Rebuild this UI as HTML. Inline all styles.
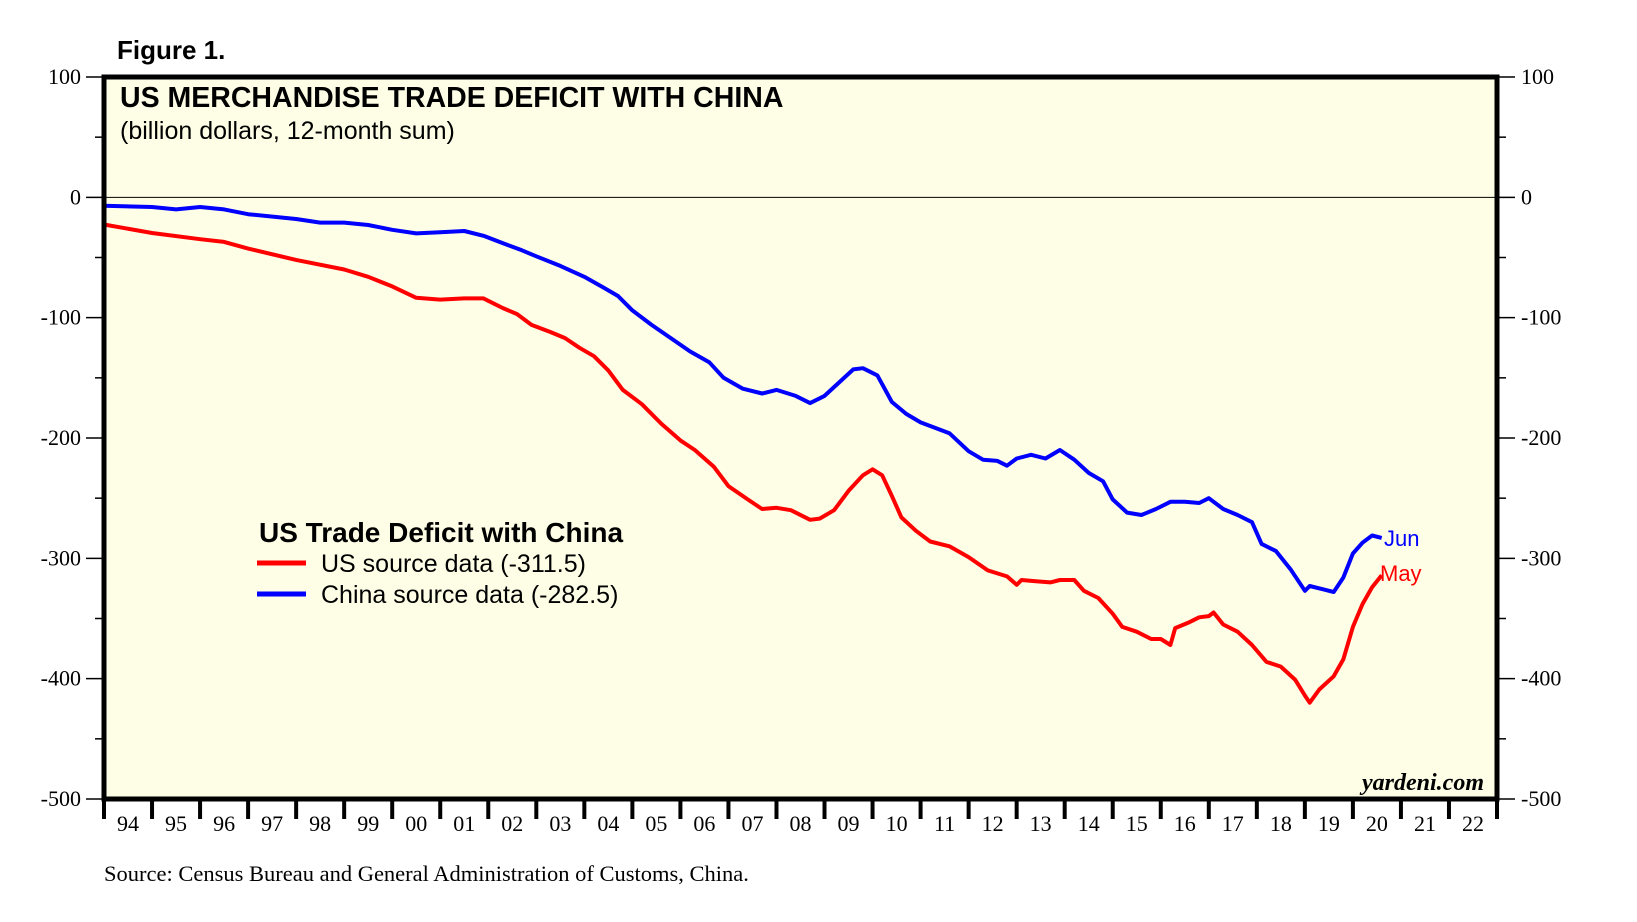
<!DOCTYPE html>
<html><head><meta charset="utf-8">
<style>
html,body{margin:0;padding:0;background:#fff;}
svg{display:block;}
</style></head>
<body>
<svg id="chart" width="1637" height="922" viewBox="0 0 1637 922" xmlns="http://www.w3.org/2000/svg">
<rect x="104" y="77" width="1393" height="722" fill="#fefee6"/>
<g id="axes"></g>
<g id="series"></g>
<rect x="104" y="77" width="1393" height="722" fill="none" stroke="#000" stroke-width="5"/>
<text x="117" y="59" font-family="Liberation Sans, sans-serif" font-weight="bold" font-size="26">Figure 1.</text>
<text x="120" y="107" font-family="Liberation Sans, sans-serif" font-weight="bold" font-size="28.5">US MERCHANDISE TRADE DEFICIT WITH CHINA</text>
<text x="120" y="139" font-family="Liberation Sans, sans-serif" font-size="25">(billion dollars, 12-month sum)</text>
<g>
<text x="259" y="542" font-family="Liberation Sans, sans-serif" font-weight="bold" font-size="28">US Trade Deficit with China</text>
<line x1="257" y1="563" x2="306" y2="563" stroke="#f00" stroke-width="5"/>
<text x="321" y="572" font-family="Liberation Sans, sans-serif" font-size="25">US source data (-311.5)</text>
<line x1="257" y1="594" x2="306" y2="594" stroke="#00f" stroke-width="5"/>
<text x="321" y="603" font-family="Liberation Sans, sans-serif" font-size="25">China source data (-282.5)</text>
</g>
<text x="1384" y="546" fill="#00f" font-family="Liberation Sans, sans-serif" font-size="22">Jun</text>
<text x="1380" y="581" fill="#f00" font-family="Liberation Sans, sans-serif" font-size="22">May</text>
<text x="1484" y="790" text-anchor="end" font-family="Liberation Serif, serif" font-weight="bold" font-style="italic" font-size="24">yardeni.com</text>
<text x="104" y="881" font-family="Liberation Serif, serif" font-size="22.5">Source: Census Bureau and General Administration of Customs, China.</text>
</svg>
<script>
const yTicks=[100,0,-100,-200,-300,-400,-500];
const yearLabels=["94","95","96","97","98","99","00","01","02","03","04","05","06","07","08","09","10","11","12","13","14","15","16","17","18","19","20","21","22"];
const usT=[1994,1995,1996,1996.5,1997,1998,1999,1999.5,2000,2000.5,2001,2001.5,2001.9,2002.3,2002.6,2002.9,2003.3,2003.6,2003.9,2004.2,2004.5,2004.8,2005.2,2005.6,2006,2006.3,2006.7,2007,2007.4,2007.7,2008,2008.3,2008.7,2008.9,2009.2,2009.5,2009.8,2010,2010.2,2010.4,2010.6,2010.9,2011.2,2011.6,2012,2012.4,2012.8,2013,2013.1,2013.4,2013.7,2013.9,2014.2,2014.4,2014.7,2015,2015.2,2015.5,2015.8,2016,2016.2,2016.3,2016.6,2016.8,2017,2017.1,2017.3,2017.6,2017.9,2018.2,2018.5,2018.8,2019,2019.1,2019.3,2019.6,2019.8,2020,2020.2,2020.4,2020.6];
const usV=[-22.6,-29.6,-34.8,-37,-42.6,-52,-60,-66,-74,-83.5,-85,-84,-84,-92,-97,-106,-112,-117,-125,-132,-144,-160,-172,-188,-202,-210,-224,-240,-251,-259,-258,-260,-268,-267,-260,-244,-231,-226,-231,-248,-266,-277,-286,-290,-299,-310,-315,-322,-318,-319,-320,-318,-318,-327,-333,-346,-357,-361,-367,-367,-372,-358,-353,-349,-348,-345,-355,-361,-372,-386,-390,-401,-414,-420,-409,-398,-384,-357,-338,-324,-314];
const cnT=[1994,1995,1995.5,1996,1996.5,1997,1998,1998.5,1999,1999.5,2000,2000.5,2001,2001.5,2001.9,2002.3,2002.7,2003,2003.5,2004,2004.4,2004.7,2005,2005.4,2005.8,2006.2,2006.6,2006.9,2007.3,2007.7,2008,2008.4,2008.7,2009,2009.3,2009.6,2009.8,2010.1,2010.4,2010.7,2011,2011.2,2011.6,2012,2012.3,2012.6,2012.8,2013,2013.3,2013.6,2013.9,2014.2,2014.5,2014.8,2015,2015.3,2015.6,2015.9,2016.2,2016.5,2016.8,2017,2017.3,2017.6,2017.9,2018.1,2018.4,2018.7,2019,2019.1,2019.4,2019.6,2019.8,2020,2020.2,2020.4,2020.6];
const cnV=[-7,-8,-10,-8,-10,-14,-18,-21,-21,-23,-27,-30,-29,-28,-32,-38,-44,-49,-57,-66,-75,-82,-94,-106,-117,-128,-137,-150,-159,-163,-160,-165,-171,-165,-154,-143,-142,-148,-170,-180,-187,-190,-196,-211,-218,-219,-223,-217,-214,-217,-210,-218,-229,-236,-251,-262,-264,-259,-253,-253,-254,-250,-259,-264,-270,-288,-294,-309,-327,-323,-326,-328,-316,-296,-287,-281,-283];

const NS="http://www.w3.org/2000/svg";
const L=104,R=1497,T=77,B=799,x0=1994,x1=2023,vmax=100,vmin=-500;
function xs(t){return L+(t-x0)/(x1-x0)*(R-L);}
function ys(v){return B-(v-vmin)/(vmax-vmin)*(B-T);}
function mk(tag,at,parent){const e=document.createElementNS(NS,tag);for(const k in at)e.setAttribute(k,at[k]);parent.appendChild(e);return e;}
const ax=document.getElementById('axes');
for(let v=vmin;v<=vmax;v+=50){
  const major=v%100===0;
  const l1=mk('line',{x1:major?86:95,y1:ys(v),x2:L,y2:ys(v),stroke:'#000','stroke-width':1.5},ax);
  
  
  const l2=mk('line',{x1:R,y1:ys(v),x2:major?R+18:R+9,y2:ys(v),stroke:'#000','stroke-width':1.5},ax);
  
  
}
yTicks.forEach(v=>{
  const a=mk('text',{x:81,y:ys(v)+7,'text-anchor':'end','font-family':'Liberation Serif, serif','font-size':22},ax);
  a.textContent=String(v);
  
  
  const b=mk('text',{x:1521,y:ys(v)+7,'font-family':'Liberation Serif, serif','font-size':22},ax);
  b.textContent=String(v);
  
  
});
const zl=mk('line',{x1:L,y1:ys(0),x2:R,y2:ys(0),stroke:'#000','stroke-width':1},ax);


yearLabels.forEach((lab,i)=>{
  const tk=mk('line',{x1:xs(x0+i),y1:B,x2:xs(x0+i),y2:B+20,stroke:'#000','stroke-width':4},ax);
  
  
  const t=mk('text',{x:xs(x0+i+0.5),y:831,'text-anchor':'middle','font-family':'Liberation Serif, serif','font-size':22},ax);
  t.textContent=lab;
  
  
});
const tkEnd=mk('line',{x1:R,y1:B,x2:R,y2:B+20,stroke:'#000','stroke-width':4},ax);


const sg=document.getElementById('series');
function line(T_,V,color,name){
  const d=T_.map((t,i)=>(i?'L':'M')+xs(t).toFixed(1)+','+ys(V[i]).toFixed(1)).join('');
  const p=mk('path',{d:d,fill:'none',stroke:color,'stroke-width':4,'stroke-linejoin':'round'},sg);
  
  
}
line(usT,usV,'#f00','us-source-line');
line(cnT,cnV,'#00f','china-source-line');
</script>
</body></html>
